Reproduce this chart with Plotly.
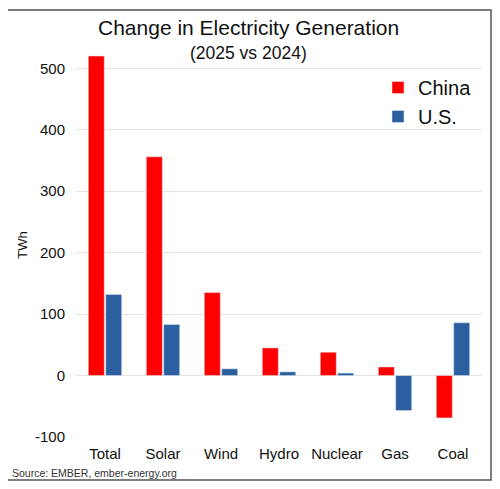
import plotly.graph_objects as go

categories = ["Total", "Solar", "Wind", "Hydro", "Nuclear", "Gas", "Coal"]
china = [520, 356, 135, 45, 38, 14, -69]
us = [132, 83, 11, 6, 4, -57, 86]
y_ticks = [-100, 0, 100, 200, 300, 400, 500]
y_ticktext = ["-100", "0", "100", "200", "300", "400", "500"]

# the page puts the figure 8px in from the top-left corner
OFF = 8
W, H = 500 - OFF, 489 - OFF
ML, MR, MT, MB = 76 - OFF, 26 - OFF, 53 - OFF, 52
FONT = "Liberation Sans, Arial, sans-serif"


def px_x(x):
    # x in screenshot pixels -> paper coords
    return (x - OFF - ML) / (W - ML - MR)


def px_y(y):
    return (H - MB - (y - OFF)) / (H - MT - MB)


fig = go.Figure()
fig.add_trace(go.Bar(x=categories, y=china, name="China", marker_color="#FF0000"))
fig.add_trace(go.Bar(x=categories, y=us, name="U.S.", marker_color="#2B5F9F"))

fig.update_layout(
    width=W, height=H,
    margin=dict(l=ML, r=MR, t=MT, b=MB),
    paper_bgcolor="white", plot_bgcolor="white",
    font=dict(family=FONT, color="#111111"),
    barmode="group", bargap=0.4, bargroupgap=0.08,
    showlegend=True,
    legend=dict(
        x=px_x(378), y=px_y(68), xanchor="left", yanchor="top",
        font=dict(size=20, color="#111111"),
        bgcolor="rgba(0,0,0,0)", tracegroupgap=0, itemwidth=30,
    ),
    xaxis=dict(
        showgrid=False, zeroline=False, showline=False, ticks="",
        ticklabelstandoff=6,
        tickfont=dict(size=15, color="#111111"),
    ),
    yaxis=dict(
        range=[-100, 525], tickvals=y_ticks, ticktext=y_ticktext,
        showgrid=True, gridcolor="#E4E4E4", gridwidth=1,
        zeroline=True, zerolinecolor="#E4E4E4", zerolinewidth=1,
        showline=False, ticks="outside", ticklen=7, tickcolor="rgba(0,0,0,0)",
        tickfont=dict(size=15, color="#111111"),
        title=dict(text="TWh", font=dict(size=13, color="#111111"), standoff=4),
    ),
)

fig.add_annotation(text="Change in Electricity Generation", x=px_x(248), y=px_y(28),
                   xref="paper", yref="paper", yanchor="middle", showarrow=False,
                   font=dict(size=21, color="#111111"))
fig.add_annotation(text="(2025 vs 2024)", x=px_x(248), y=px_y(53),
                   xref="paper", yref="paper", yanchor="middle", showarrow=False,
                   font=dict(size=17.5, color="#111111"))
fig.add_annotation(text="Source: EMBER, ember-energy.org", x=px_x(10), y=px_y(473),
                   xref="paper", yref="paper", xanchor="left", yanchor="middle",
                   showarrow=False, font=dict(size=10.5, color="#333333"))

# outer frame
fig.add_shape(type="rect", xref="paper", yref="paper",
              x0=px_x(5), x1=px_x(491), y0=px_y(480), y1=px_y(10),
              line=dict(color="#555555", width=1.5), layer="below")

fig.write_html("out.html")
